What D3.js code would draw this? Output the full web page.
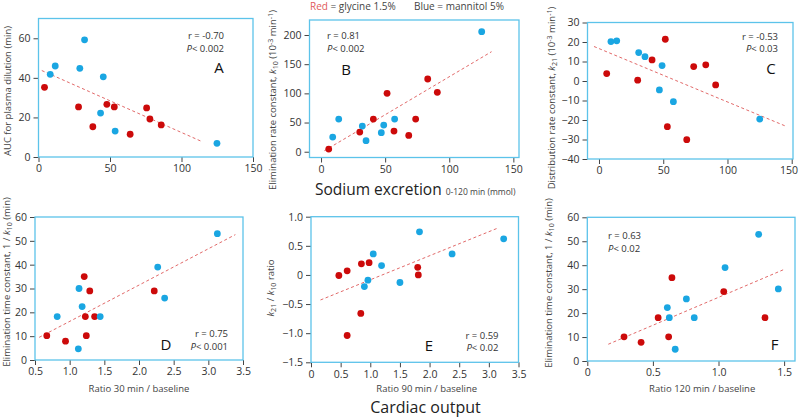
<!DOCTYPE html>
<html>
<head>
<meta charset="utf-8">
<script src="https://cdn.jsdelivr.net/npm/d3@7"></script>
<style>
  html, body { margin: 0; padding: 0; background: #fff; }
  svg { display: block; font-family: "Open Sans", sans-serif; }
</style>
</head>
<body>
<svg id="chart" width="799" height="419"></svg>
<script>
// data +++++++++++++++++++++++++++++++++++++++++
// A: sodium excretion vs AUC for plasma dilution
const aBlueX = [8.2, 11.7, 28.9, 32.2, 43.4, 45.3, 53.6, 124.8];
const aBlueY = [41.8, 46.0, 44.8, 59.2, 22.2, 40.5, 13.1, 6.9];
const aRedX = [4.2, 28.0, 38.0, 47.8, 53.0, 64.1, 75.6, 77.9, 85.8];
const aRedY = [35.2, 25.3, 15.3, 26.6, 25.3, 11.5, 24.8, 19.2, 16.2];
const aTrend = [[2.3, 43.7], [114.3, 7.8]];

// B: sodium excretion vs k10
const bBlueX = [9.1, 13.8, 32.2, 35.1, 47.0, 48.9, 57.4, 125.3];
const bBlueY = [25.1, 56, 44, 18.9, 32.6, 45.7, 56, 205.7];
const bRedX = [6.0, 30.2, 40.8, 51.5, 56.9, 68.4, 73.8, 83.2, 90.7];
const bRedY = [4.6, 33.7, 56, 100, 35.4, 28, 56, 124.6, 101.7];
const bTrend = [[2.6, 1.7], [133, 171.4]];

// C: sodium excretion vs k21
const cBlueX = [9.3, 13.8, 30.9, 35.8, 49.1, 47.0, 57.9, 125.1];
const cBlueY = [20.2, 20.6, 14.6, 12.5, 7.9, -4.6, -10.6, -19.5];
const cRedX = [6.0, 30.1, 41.3, 51.6, 53.2, 68.3, 73.7, 83.1, 90.8];
const cRedY = [3.8, 0.4, 10.8, 21.4, -23.4, -30.1, 7.4, 8.3, -2.0];
const cTrend = [[-3.9, 17.7], [144.8, -23]];

// D: cardiac output ratio 30 min vs 1/k10
const dBlueX = [0.82, 1.125, 1.135, 1.18, 1.44, 2.27, 2.37, 3.13];
const dBlueY = [18.2, 4.7, 30, 22.4, 18.2, 39, 26, 53];
const dRedX = [0.67, 0.94, 1.21, 1.226, 1.24, 1.29, 1.36, 2.22];
const dRedY = [10.2, 7.9, 35, 18.2, 10.2, 29, 18.2, 29];
const dTrend = [[0.56, 9.5], [3.39, 52.6]];

// E: cardiac output ratio 90 min vs k21/k10
const eBlueX = [0.90, 0.96, 1.05, 1.19, 1.50, 1.83, 2.38, 3.25];
const eBlueY = [-0.2, -0.09, 0.36, 0.16, -0.13, 0.74, 0.36, 0.62];
const eRedX = [0.47, 0.61, 0.85, 0.98, 0.84, 0.61, 1.80, 1.81];
const eRedY = [-0.01, 0.07, 0.19, 0.21, -0.66, -1.04, 0.13, 0.0];
const eTrend = [[0.16, -0.43], [3.14, 0.80]];

// F: cardiac output ratio 120 min vs 1/k10
const fBlueX = [0.61, 0.625, 0.67, 0.755, 0.815, 1.05, 1.306, 1.456];
const fBlueY = [22.3, 18.1, 4.9, 25.9, 18.1, 39, 52.9, 30.1];
const fRedX = [0.28, 0.41, 0.54, 0.62, 0.645, 1.04, 1.354];
const fRedY = [10.1, 7.8, 18.1, 10.1, 34.8, 29, 18.1];
const fTrend = [[0.16, 7.0], [1.507, 38.4]];

// tick values
const sodiumTicks = [0, 50, 100, 150];
const aYTicks = [0, 20, 40, 60];
const bYTicks = [0, 50, 100, 150, 200];
const cYTicks = [-40, -30, -20, -10, 0, 10, 20, 30];
const ratioTicks = [0.5, 1.0, 1.5, 2.0, 2.5, 3.0, 3.5];
const eXTicks = [0, 0.5, 1.0, 1.5, 2.0, 2.5, 3.0, 3.5];
const timeTicks = [0, 10, 20, 30, 40, 50, 60];
const eYTicks = [-1.5, -1.0, -0.5, 0, 0.5, 1.0];
const fXTicks = [0, 0.5, 1.0, 1.5];

// stats text
const stats = {
  A: ["r = -0.70", "0.002"], B: ["r = 0.81", "0.002"], C: ["r = -0.53", "0.03"],
  D: ["r = 0.75", "0.001"], E: ["r = 0.59", "0.02"], F: ["r = 0.63", "0.02"]
};
// data -----------------------------------------

const frameColor = "#5cc3ea";
const blueColor = "#1aa6e2";
const redColor = "#cc0a0a";
const trendColor = "#e26a6a";
const textColor = "#333";

const svg = d3.select("#chart");

const intFmt = d3.format("d");
const decFmt = v => v === 0 ? "0" : d3.format(".1f")(v);

// rich text: segments of {t, i (italic), sub, sup}
function richText(sel, segs) {
  segs.forEach(s => {
    const ts = sel.append("tspan").text(s.t);
    if (s.i) ts.attr("font-style", "italic");
    if (s.sub) ts.attr("baseline-shift", "-25%").attr("font-size", "0.75em");
    if (s.sup) ts.attr("baseline-shift", "40%").attr("font-size", "0.75em");
  });
}

function drawPanel(p) {
  const x = d3.scaleLinear().domain(p.xDomain).range([p.left, p.right]);
  const y = d3.scaleLinear().domain(p.yDomain).range([p.bottom, p.top]);
  const g = svg.append("g");

  // axes (ticks only, the frame is drawn as a rect)
  const xAxis = d3.axisBottom(x).tickValues(p.xTicks).tickSize(5).tickPadding(3).tickFormat(p.xFmt);
  const yAxis = d3.axisLeft(y).tickValues(p.yTicks).tickSize(5).tickPadding(3).tickFormat(p.yFmt);

  const xg = g.append("g").attr("transform", `translate(0,${p.bottom})`).call(xAxis)
    .call(a => a.select(".domain").remove());
  g.append("g").attr("transform", `translate(${p.left},0)`).call(yAxis)
    .call(a => a.select(".domain").remove());

  g.selectAll(".tick line").attr("stroke", "#444");
  g.selectAll(".tick text").attr("fill", textColor).attr("font-size", "10.5px")
    .attr("font-family", "'Open Sans', sans-serif");

  // keep the last x label inside the page
  xg.selectAll(".tick text").each(function () {
    const bb = this.getBBox();
    const t = d3.select(this.parentNode).attr("transform");
    const tx = +t.match(/translate\(([-\d.]+)/)[1];
    const overflow = tx + bb.x + bb.width - 798;
    if (overflow > 0) d3.select(this).attr("x", -overflow);
  });

  g.append("rect")
    .attr("x", p.left).attr("y", p.top)
    .attr("width", p.right - p.left).attr("height", p.bottom - p.top)
    .attr("fill", "none").attr("stroke", frameColor).attr("stroke-width", 1.3);

  // trend line
  g.append("path")
    .datum(p.trend)
    .attr("d", d3.line().x(d => x(d[0])).y(d => y(d[1])))
    .attr("fill", "none").attr("stroke", trendColor)
    .attr("stroke-width", 1).attr("stroke-dasharray", "3,2.5");

  // points
  const pts = p.redX.map((v, i) => ({ x: v, y: p.redY[i], c: redColor }))
    .concat(p.blueX.map((v, i) => ({ x: v, y: p.blueY[i], c: blueColor })));
  g.selectAll("circle.pt").data(pts).enter().append("circle")
    .attr("class", "pt")
    .attr("cx", d => x(d.x)).attr("cy", d => y(d.y))
    .attr("r", 3.4).attr("fill", d => d.c);

  // stats
  const st = stats[p.id];
  const anchor = p.statAnchor;
  g.append("text").attr("x", p.statX).attr("y", p.statY)
    .attr("text-anchor", anchor).attr("font-size", "9.5px").attr("fill", textColor)
    .text(st[0]);
  const pt = g.append("text").attr("x", p.statX).attr("y", p.statY + 12.5)
    .attr("text-anchor", anchor).attr("font-size", "9.5px").attr("fill", textColor);
  richText(pt, [{ t: "P", i: true }, { t: "< " + st[1] }]);

  // panel letter
  g.append("text").attr("x", p.letterX).attr("y", p.letterY)
    .attr("text-anchor", "middle").attr("font-size", "15px").attr("fill", "#111")
    .text(p.id);

  // y label
  const yl = g.append("text")
    .attr("transform", `translate(${p.yLabelX},${p.yLabelY}) rotate(-90)`)
    .attr("text-anchor", "middle").attr("font-size", "9.5px").attr("fill", "#444");
  richText(yl, p.yLabel);

  // x label
  if (p.xLabel) {
    g.append("text").attr("x", (p.left + p.right) / 2 + p.xLabelDx).attr("y", p.xLabelY)
      .attr("text-anchor", "middle").attr("font-size", "9.5px").attr("fill", "#444")
      .text(p.xLabel);
  }
}

const k10Label = [{ t: "Elimination time constant, 1 / " }, { t: "k", i: true }, { t: "10", sub: true }, { t: " (min)" }];

const panels = [
  { id: "A", left: 38.5, right: 253, top: 18.5, bottom: 157, xDomain: [0, 150], yDomain: [0, 70],
    xTicks: sodiumTicks, yTicks: aYTicks, xFmt: intFmt, yFmt: intFmt,
    blueX: aBlueX, blueY: aBlueY, redX: aRedX, redY: aRedY, trend: aTrend,
    statX: 224, statY: 39, statAnchor: "end", letterX: 219, letterY: 73,
    yLabelX: 10.5, yLabelY: 91, yLabel: [{ t: "AUC for plasma dilution (min)" }] },
  { id: "B", left: 309.5, right: 519, top: 20, bottom: 157.5, xDomain: [-9, 154.4], yDomain: [-9.9, 225.7],
    xTicks: sodiumTicks, yTicks: bYTicks, xFmt: intFmt, yFmt: intFmt,
    blueX: bBlueX, blueY: bBlueY, redX: bRedX, redY: bRedY, trend: bTrend,
    statX: 327, statY: 39, statAnchor: "start", letterX: 346, letterY: 75,
    yLabelX: 275.5, yLabelY: 100,
    yLabel: [{ t: "Elimination rate constant, " }, { t: "k", i: true }, { t: "10", sub: true }, { t: " (10" }, { t: "-3", sup: true }, { t: " min" }, { t: "-1", sup: true }, { t: ")" }] },
  { id: "C", left: 587.5, right: 793, top: 22.5, bottom: 159, xDomain: [-8.95, 151], yDomain: [-40, 30],
    xTicks: sodiumTicks, yTicks: cYTicks, xFmt: intFmt, yFmt: intFmt,
    blueX: cBlueX, blueY: cBlueY, redX: cRedX, redY: cRedY, trend: cTrend,
    statX: 778, statY: 39.5, statAnchor: "end", letterX: 771, letterY: 74,
    yLabelX: 554.5, yLabelY: 98,
    yLabel: [{ t: "Distribution rate constant, " }, { t: "k", i: true }, { t: "21", sub: true }, { t: " (10" }, { t: "-3", sup: true }, { t: " min" }, { t: "-1", sup: true }, { t: ")" }] },
  { id: "D", left: 35, right: 243, top: 217, bottom: 360, xDomain: [0.5, 3.5], yDomain: [0, 60],
    xTicks: ratioTicks, yTicks: timeTicks, xFmt: decFmt, yFmt: intFmt,
    blueX: dBlueX, blueY: dBlueY, redX: dRedX, redY: dRedY, trend: dTrend,
    statX: 228, statY: 337, statAnchor: "end", letterX: 166, letterY: 350,
    yLabelX: 10, yLabelY: 282, yLabel: k10Label,
    xLabel: "Ratio 30 min / baseline", xLabelY: 392, xLabelDx: 0 },
  { id: "E", left: 311, right: 518.5, top: 216.7, bottom: 362.3, xDomain: [0, 3.5], yDomain: [-1.5, 1.0],
    xTicks: eXTicks, yTicks: eYTicks, xFmt: decFmt, yFmt: decFmt,
    blueX: eBlueX, blueY: eBlueY, redX: eRedX, redY: eRedY, trend: eTrend,
    statX: 498.5, statY: 338.5, statAnchor: "end", letterX: 429, letterY: 351,
    yLabelX: 273.5, yLabelY: 288,
    yLabel: [{ t: "k", i: true }, { t: "21", sub: true }, { t: " / " }, { t: "k", i: true }, { t: "10", sub: true }, { t: " ratio" }],
    xLabel: "Ratio 90 min / baseline", xLabelY: 392, xLabelDx: 12 },
  { id: "F", left: 587.3, right: 795, top: 217.3, bottom: 361, xDomain: [0, 1.583], yDomain: [0, 60],
    xTicks: fXTicks, yTicks: timeTicks, xFmt: decFmt, yFmt: intFmt,
    blueX: fBlueX, blueY: fBlueY, redX: fRedX, redY: fRedY, trend: fTrend,
    statX: 608, statY: 239, statAnchor: "start", letterX: 774.5, letterY: 350,
    yLabelX: 552, yLabelY: 283, yLabel: k10Label,
    xLabel: "Ratio 120 min / baseline", xLabelY: 392, xLabelDx: 11 }
];

panels.forEach(drawPanel);

// legend line at top
const legend = svg.append("text").attr("x", 310).attr("y", 10).attr("font-size", "10px").attr("fill", "#444");
legend.append("tspan").attr("fill", "#e05b5b").text("Red");
legend.append("tspan").text(" = glycine 1.5%");
svg.append("text").attr("x", 414).attr("y", 10).attr("font-size", "10px").attr("fill", "#444")
  .text("Blue = mannitol 5%");

// group titles
const sodium = svg.append("text").attr("x", 315).attr("y", 195).attr("fill", "#222");
sodium.append("tspan").attr("font-size", "15.5px").text("Sodium excretion");
sodium.append("tspan").attr("font-size", "8.5px").attr("fill", "#444").attr("dx", 4).text("0-120 min (mmol)");

svg.append("text").attr("x", 425.5).attr("y", 413).attr("text-anchor", "middle")
  .attr("font-size", "16px").attr("fill", "#222").text("Cardiac output");
</script>
</body>
</html>
